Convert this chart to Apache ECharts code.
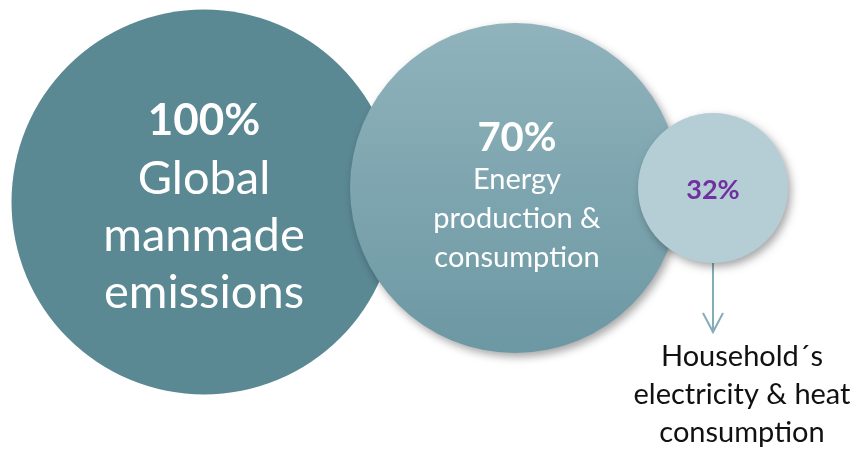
<!DOCTYPE html>
<html><head><meta charset="utf-8">
<script src="https://cdn.jsdelivr.net/npm/echarts@6/dist/echarts.min.js"></script>
<style>html,body{margin:0;padding:0;background:#fff}#c{width:856px;height:450px}</style>
</head><body><div id="c"></div>
<script>
// Data
const shares = ['100%', '70%', '32%'];
const descriptions = ['Global\nmanmade\nemissions', 'Energy\nproduction &\nconsumption', ''];
const outcomeLabel = 'Household\u00b4s\nelectricity & heat\nconsumption';

// Layout (pixel space of a hidden 856x450 cartesian grid)
const centers = [[204, 202], [515, 188], [713, 188]];
const diameters = [385, 330, 150];
const labelOffsets = [[0, 4], [2, 9], [0, 2]];
const arrowFrom = [713, 263], arrowTo = [713, 332];
const outcomePos = [742, 395];

const chart = echarts.init(document.getElementById('c'), null, {renderer: 'canvas'});
const FONT = 'Lato, "Open Sans", sans-serif';

const colors = [
  '#5a8893',
  new echarts.graphic.LinearGradient(0, 0, 0, 1, [{offset: 0, color: '#90b3bc'}, {offset: 1, color: '#6c98a3'}]),
  '#b5ced5'
];

const circleData = shares.map((s, i) => ({
  value: centers[i],
  symbolSize: diameters[i],
  itemStyle: {
    color: colors[i],
    opacity: 1,
    shadowBlur: i === 0 ? 0 : 8,
    shadowOffsetX: i === 0 ? 0 : 3,
    shadowOffsetY: i === 0 ? 0 : 4,
    shadowColor: 'rgba(0,0,0,0.35)'
  },
  label: {
    show: true,
    position: 'inside',
    offset: labelOffsets[i],
    formatter: i === 2 ? '{p3|' + s + '}' : '{p' + (i + 1) + '|' + s + '}\n{d' + (i + 1) + '|' + descriptions[i] + '}',
    rich: {
      p1: {fontSize: 44, fontWeight: 'bold', color: '#fff', fontFamily: FONT, lineHeight: 60},
      d1: {fontSize: 47, color: '#fff', fontFamily: FONT, lineHeight: 57},
      p2: {fontSize: 40, fontWeight: 'bold', color: '#fff', fontFamily: FONT, lineHeight: 44},
      d2: {fontSize: 29, color: '#fff', fontFamily: FONT, lineHeight: 39},
      p3: {fontSize: 27, fontWeight: 'bold', color: '#7030a0', fontFamily: FONT}
    }
  }
}));

chart.setOption({
  animation: false,
  grid: {left: 0, right: 0, top: 0, bottom: 0},
  xAxis: {type: 'value', min: 0, max: 856, show: false},
  yAxis: {type: 'value', min: 0, max: 450, inverse: true, show: false},
  series: [
    {
      type: 'scatter',
      symbol: 'circle',
      data: circleData,
      emphasis: {disabled: true},
      z: 2
    },
    {
      type: 'custom',
      z: 1,
      data: [[arrowFrom[0], arrowFrom[1], arrowTo[0], arrowTo[1]]],
      renderItem: function (params, api) {
        const a = api.coord([api.value(0), api.value(1)]);
        const b = api.coord([api.value(2), api.value(3)]);
        const st = {stroke: '#85adb7', lineWidth: 2, fill: null};
        return {
          type: 'group',
          children: [
            {type: 'line', shape: {x1: a[0], y1: a[1], x2: b[0], y2: b[1]}, style: st},
            {type: 'polyline', shape: {points: [[b[0] - 10, b[1] - 19], [b[0], b[1]], [b[0] + 10, b[1] - 19]]}, style: st}
          ]
        };
      }
    },
    {
      type: 'scatter',
      symbolSize: 0,
      itemStyle: {opacity: 1},
      data: [{value: outcomePos}],
      emphasis: {disabled: true},
      label: {
        show: true,
        position: 'inside',
        formatter: outcomeLabel,
        fontSize: 29,
        lineHeight: 38,
        color: '#111111',
        opacity: 1,
        fontFamily: FONT,
        align: 'center'
      },
      z: 3
    }
  ]
});
</script></body></html>
